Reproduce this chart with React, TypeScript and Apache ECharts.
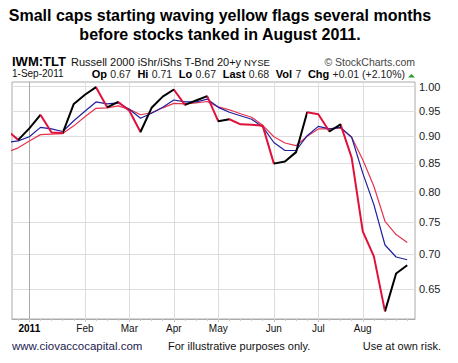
import React, { useEffect, useRef } from 'react';
import * as echarts from 'echarts';

// Weekly dates (Monday of each week)
const weeks = [
  '2010-12-20', '2010-12-27', '2011-01-03', '2011-01-10', '2011-01-17', '2011-01-24', '2011-01-31',
  '2011-02-07', '2011-02-14', '2011-02-21', '2011-02-28', '2011-03-07', '2011-03-14', '2011-03-21',
  '2011-03-28', '2011-04-04', '2011-04-11', '2011-04-18', '2011-04-25', '2011-05-02', '2011-05-09',
  '2011-05-16', '2011-05-23', '2011-05-30', '2011-06-06', '2011-06-13', '2011-06-20', '2011-06-27',
  '2011-07-04', '2011-07-11', '2011-07-18', '2011-07-25', '2011-08-01', '2011-08-08', '2011-08-15',
  '2011-08-22', '2011-08-29',
];
// IWM:TLT ratio
const ratio = [
  0.911, 0.893, 0.915, 0.942, 0.907, 0.906, 0.964, 0.983, 0.999, 0.957,
  0.968, 0.950, 0.908, 0.956, 0.979, 0.994, 0.962, 0.971, 0.980, 0.929,
  0.933, 0.923, 0.922, 0.920, 0.849, 0.853, 0.870, 0.947, 0.943, 0.909,
  0.923, 0.860, 0.735, 0.697, 0.620, 0.672, 0.684,
];
// Shorter moving average (blue)
const maShort = [
  0.888, 0.891, 0.899, 0.917, 0.914, 0.909, 0.930, 0.949, 0.968, 0.964,
  0.966, 0.953, 0.935, 0.945, 0.957, 0.972, 0.968, 0.968, 0.974, 0.957,
  0.947, 0.940, 0.933, 0.918, 0.888, 0.873, 0.873, 0.901, 0.919, 0.914,
  0.917, 0.898, 0.832, 0.778, 0.714, 0.696, 0.692,
];
// Longer moving average (red)
const maLong = [
  0.870, 0.878, 0.891, 0.903, 0.904, 0.905, 0.920, 0.938, 0.955, 0.956,
  0.960, 0.953, 0.942, 0.946, 0.956, 0.965, 0.964, 0.966, 0.969, 0.958,
  0.952, 0.944, 0.937, 0.921, 0.899, 0.887, 0.882, 0.900, 0.914, 0.914,
  0.916, 0.898, 0.856, 0.809, 0.751, 0.730, 0.718,
];
const yTicks = [0.65, 0.7, 0.75, 0.8, 0.85, 0.9, 0.95, 1.0];
const monthLabels = ['2011', 'Feb', 'Mar', 'Apr', 'May', 'Jun', 'Jul', 'Aug'];

const FONT = "'Liberation Sans', Arial, sans-serif";

export default function App() {
  const ref = useRef<HTMLDivElement>(null);
  useEffect(() => {
    const chart = echarts.init(ref.current!, null, { renderer: 'svg' });
    const base = weeks.indexOf('2011-01-03');
    const xs = weeks.map((_, i) => i - base);
    const monthPos: number[] = [];
    let prev = '';
    weeks.forEach((w, i) => {
      const m = w.slice(0, 7);
      if (w >= '2011' && m !== prev) monthPos.push(xs[i]);
      prev = m;
    });
    const labelMap: Record<number, string> = {};
    monthPos.forEach((p, k) => (labelMap[p] = monthLabels[k]));

    // red pieces for declining segments
    const pieces: { gte: number; lte: number; color: string }[] = [];
    for (let i = 0; i < ratio.length - 1; i++) {
      if (ratio[i + 1] < ratio[i]) {
        const last = pieces[pieces.length - 1];
        if (last && last.lte === xs[i]) last.lte = xs[i + 1];
        else pieces.push({ gte: xs[i], lte: xs[i + 1], color: '#e0103c' });
      }
    }

    const xMin = -1.56;
    const xMax = 34.7;

    chart.setOption({
      animation: false,
      backgroundColor: '#fff',
      textStyle: { fontFamily: FONT },
      grid: {
        left: 12, right: 43, top: 82, bottom: 44,
        show: true, borderColor: '#aaa', borderWidth: 1, backgroundColor: '#fff',
      },
      visualMap: {
        type: 'piecewise', show: false, dimension: 0, seriesIndex: 2,
        pieces, outOfRange: { color: '#000' },
      },
      xAxis: [
        {
          type: 'value', min: xMin, max: xMax, position: 'bottom',
          axisLine: { show: true, lineStyle: { color: '#aaa' } },
          axisTick: { show: true, customValues: monthPos, length: 3, lineStyle: { color: '#bbb' } },
          splitLine: {
            show: true,
            lineStyle: { color: ['#b5b5b5', '#dedede', '#dedede', '#dedede', '#dedede', '#dedede', '#dedede', '#dedede'], width: 1 },
          },
          axisLabel: {
            customValues: monthPos,
            margin: 4,
            fontSize: 10, color: '#111', fontFamily: FONT,
            formatter: (v: number) => (labelMap[v] === '2011' ? '{b|2011}' : labelMap[v] || ''),
            rich: { b: { fontWeight: 'bold', fontSize: 10, color: '#000', fontFamily: FONT } },
          },
        },
        {
          type: 'value', min: xMin, max: xMax, position: 'bottom',
          axisLine: { show: false },
          axisTick: { show: true, customValues: xs.filter((x) => x >= xMin && x <= xMax), length: 2, lineStyle: { color: '#ccc' } },
          splitLine: { show: false },
          axisLabel: { show: false },
        },
      ],
      yAxis: {
        type: 'log', logBase: 10, min: 0.61, max: 1.01, position: 'right',
        axisLine: { show: true, lineStyle: { color: '#aaa' } },
        axisTick: { show: false, customValues: yTicks },
        splitLine: { show: true, lineStyle: { color: '#dedede' } },
        axisLabel: {
          customValues: yTicks, margin: 4, fontSize: 11, color: '#222', fontFamily: FONT,
          formatter: (v: number) => v.toFixed(2),
        },
      },
      series: [
        {
          type: 'line', name: 'MA long', data: xs.map((x, i) => [x, maLong[i]]),
          showSymbol: false, lineStyle: { color: '#e8334f', width: 1.2 }, itemStyle: { color: '#e8334f' }, z: 2,
        },
        {
          type: 'line', name: 'MA short', data: xs.map((x, i) => [x, maShort[i]]),
          showSymbol: false, lineStyle: { color: '#1f1fa0', width: 1.2 }, itemStyle: { color: '#1f1fa0' }, z: 3,
        },
        {
          type: 'line', name: 'IWM:TLT', data: xs.map((x, i) => [x, ratio[i]]),
          showSymbol: false, lineStyle: { width: 2 }, z: 4,
        },
      ],
      graphic: [
        { type: 'text', x: 220, y: 15, style: { text: 'Small caps starting waving yellow flags several months', font: `bold 16px ${FONT}`, fill: '#000', align: 'center', verticalAlign: 'middle' } },
        { type: 'text', x: 220, y: 34, style: { text: 'before stocks tanked in August 2011.', font: `bold 16px ${FONT}`, fill: '#000', align: 'center', verticalAlign: 'middle' } },
        { type: 'text', x: 12, y: 61, style: { text: 'IWM:TLT', font: `bold 13px ${FONT}`, lineHeight: 12, fill: '#000', verticalAlign: 'middle' } },
        { type: 'text', x: 71, y: 62, style: { text: 'Russell 2000 iShr/iShs T-Bnd 20+y', font: `11px ${FONT}`, lineHeight: 11, fill: '#111', verticalAlign: 'middle' } },
        { type: 'text', x: 244, y: 62, style: { text: 'NYSE', font: `9.5px ${FONT}`, lineHeight: 10, fill: '#111', verticalAlign: 'middle' } },
        { type: 'text', x: 415, y: 62, style: { text: '© StockCharts.com', font: `10.5px ${FONT}`, lineHeight: 11, fill: '#444', align: 'right', verticalAlign: 'middle' } },
        { type: 'text', x: 12, y: 73.5, style: { text: '1-Sep-2011', font: `10px ${FONT}`, lineHeight: 10, fill: '#111', verticalAlign: 'middle' } },
        {
          type: 'text', x: 405, y: 73.5,
          style: {
            text: '{b|Op} {v|0.67}  {b|Hi} {v|0.71}  {b|Lo} {v|0.67}  {b|Last} {v|0.68}  {b|Vol} {v|7}  {b|Chg} {v|+0.01 (+2.10%)}',
            align: 'right', verticalAlign: 'middle',
            rich: {
              b: { font: `bold 11px ${FONT}`, fill: '#000', lineHeight: 10 },
              v: { font: `10.5px ${FONT}`, fill: '#222', lineHeight: 10 },
            },
          },
        },
        { type: 'polygon', shape: { points: [[408, 77.5], [415, 77.5], [411.5, 74]] }, style: { fill: '#2e9a2e' } },
        { type: 'text', x: 12, y: 346, style: { text: 'www.ciovaccocapital.com', font: `11.5px ${FONT}`, fill: '#1c1c50', verticalAlign: 'middle' } },
        { type: 'text', x: 168, y: 346, style: { text: 'For illustrative purposes only.', font: `11px ${FONT}`, fill: '#111', verticalAlign: 'middle' } },
        { type: 'text', x: 441, y: 346, style: { text: 'Use at own risk.', font: `11px ${FONT}`, fill: '#111', align: 'right', verticalAlign: 'middle' } },
      ],
    });
    return () => chart.dispose();
  }, []);
  return <div ref={ref} style={{ width: 458, height: 363, position: 'absolute', left: 0, top: 0 }} />;
}
